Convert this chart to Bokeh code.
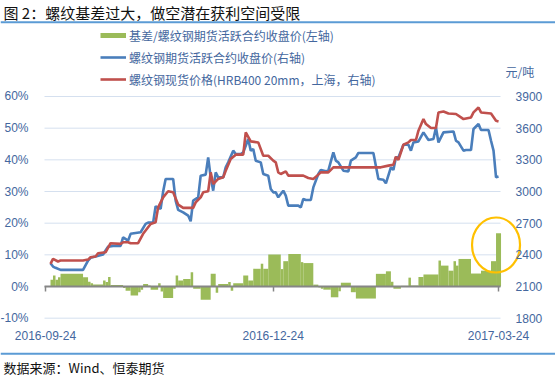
import pandas as pd
from bokeh.plotting import figure
from bokeh.models import (Range1d, LinearAxis, DatetimeAxis, FixedTicker, PrintfTickFormatter,
                          DatetimeTickFormatter, Legend, LegendItem, Label, Span,
                          ColumnDataSource)
from bokeh.embed import file_html
from bokeh.resources import INLINE

# ---------------- texts ----------------
chart_title = "图 2：螺纹基差过大，做空潜在获利空间受限"
source_note = "数据来源：Wind、恒泰期货"
unit_label = "元/吨"
legend_labels = ["基差/螺纹钢期货活跃合约收盘价(左轴)",
                 "螺纹钢期货活跃合约收盘价(右轴)",
                 "螺纹钢现货价格(HRB400 20mm，上海，右轴)"]

# ---------------- axes ----------------
x_tick_dates = ["2016-09-24", "2016-12-24", "2017-03-24"]
pct_ticks = [-10, 0, 10, 20, 30, 40, 50, 60]
price_ticks = [1800, 2100, 2400, 2700, 3000, 3300, 3600, 3900]

# ---------------- data ----------------
futures_dates = ["2016-09-26", "2016-09-27", "2016-09-28", "2016-09-30", "2016-10-09", "2016-10-11",
                 "2016-10-12", "2016-10-14", "2016-10-17", "2016-10-18", "2016-10-19", "2016-10-21",
                 "2016-10-24", "2016-10-25", "2016-10-27", "2016-10-28", "2016-11-01", "2016-11-03",
                 "2016-11-04", "2016-11-06", "2016-11-07", "2016-11-09", "2016-11-10", "2016-11-11",
                 "2016-11-14", "2016-11-15", "2016-11-16", "2016-11-18", "2016-11-20", "2016-11-21",
                 "2016-11-22", "2016-11-24", "2016-11-25", "2016-11-27", "2016-11-28", "2016-11-29",
                 "2016-11-30", "2016-12-01", "2016-12-02", "2016-12-04", "2016-12-05", "2016-12-06",
                 "2016-12-08", "2016-12-09", "2016-12-11", "2016-12-12", "2016-12-14", "2016-12-15",
                 "2016-12-16", "2016-12-17", "2016-12-19", "2016-12-20", "2016-12-22", "2016-12-23",
                 "2016-12-24", "2016-12-25", "2016-12-26", "2016-12-28", "2016-12-29", "2016-12-30",
                 "2017-01-03", "2017-01-04", "2017-01-05", "2017-01-06", "2017-01-08", "2017-01-09",
                 "2017-01-11", "2017-01-12", "2017-01-14", "2017-01-15", "2017-01-17", "2017-01-18",
                 "2017-01-19", "2017-01-21", "2017-01-23", "2017-01-24", "2017-01-26", "2017-01-27",
                 "2017-02-02", "2017-02-04", "2017-02-06", "2017-02-07", "2017-02-09", "2017-02-10",
                 "2017-02-11", "2017-02-12", "2017-02-14", "2017-02-16", "2017-02-17", "2017-02-18",
                 "2017-02-20", "2017-02-22", "2017-02-24", "2017-02-26", "2017-02-27", "2017-02-28",
                 "2017-03-02", "2017-03-06", "2017-03-07", "2017-03-08", "2017-03-10", "2017-03-11",
                 "2017-03-13", "2017-03-14", "2017-03-16", "2017-03-17", "2017-03-20", "2017-03-21",
                 "2017-03-22", "2017-03-23", "2017-03-24"]
futures_price = [2320, 2289, 2277, 2258, 2258, 2346,
                 2372, 2384, 2403, 2441, 2478, 2485,
                 2485, 2566, 2535, 2599, 2614, 2693,
                 2705, 2705, 2860, 2835, 3000, 3119,
                 3119, 2914, 2826, 2803, 2772, 2718,
                 2914, 2945, 3150, 3160, 3323, 3134,
                 3008, 3181, 3134, 3134, 3229, 3276,
                 3387, 3355, 3355, 3370, 3497, 3387,
                 3403, 3292, 3276, 3166, 3150, 3024,
                 2992, 2992, 2945, 3008, 2961, 2866,
                 2866, 2850, 2930, 2920, 2920, 3039,
                 3166, 3204, 3191, 3197, 3370, 3292,
                 3276, 3197, 3191, 3292, 3323, 3365,
                 3365, 3119, 3112, 3077, 3229, 3204,
                 3323, 3323, 3443, 3443, 3387, 3465,
                 3475, 3560, 3488, 3497, 3607, 3465,
                 3560, 3569, 3481, 3465, 3387, 3393,
                 3393, 3592, 3639, 3582, 3582, 3481,
                 3387, 3134, 3141]

spot_dates = ["2016-09-26", "2016-09-27", "2016-09-29", "2016-09-30", "2016-10-09", "2016-10-11",
              "2016-10-12", "2016-10-14", "2016-10-15", "2016-10-18", "2016-10-20", "2016-10-24",
              "2016-10-25", "2016-10-27", "2016-10-28", "2016-10-31", "2016-11-02", "2016-11-05",
              "2016-11-07", "2016-11-08", "2016-11-10", "2016-11-12", "2016-11-14", "2016-11-16",
              "2016-11-18", "2016-11-22", "2016-11-23", "2016-11-25", "2016-11-26", "2016-11-28",
              "2016-11-29", "2016-11-30", "2016-12-02", "2016-12-04", "2016-12-05", "2016-12-07",
              "2016-12-09", "2016-12-12", "2016-12-13", "2016-12-15", "2016-12-18", "2016-12-20",
              "2016-12-22", "2016-12-24", "2016-12-25", "2016-12-26", "2016-12-27", "2016-12-29",
              "2016-12-30", "2017-01-05", "2017-01-07", "2017-01-09", "2017-01-11", "2017-01-12",
              "2017-01-15", "2017-01-17", "2017-02-05", "2017-02-08", "2017-02-10", "2017-02-11",
              "2017-02-12", "2017-02-14", "2017-02-16", "2017-02-17", "2017-02-19", "2017-02-20",
              "2017-02-22", "2017-02-23", "2017-02-25", "2017-02-27", "2017-02-28", "2017-03-02",
              "2017-03-04", "2017-03-07", "2017-03-09", "2017-03-10", "2017-03-13", "2017-03-14",
              "2017-03-16", "2017-03-17", "2017-03-21", "2017-03-23", "2017-03-24"]
spot_price = [2315, 2362, 2337, 2346, 2346, 2355,
              2377, 2384, 2415, 2424, 2510, 2504,
              2519, 2519, 2510, 2510, 2599, 2693,
              2708, 2850, 2945, 3002, 2992, 2876,
              2845, 2845, 2897, 2945, 2992, 3002,
              3181, 3071, 3119, 3134, 3197, 3308,
              3349, 3349, 3560, 3475, 3465, 3339,
              3339, 3292, 3276, 3181, 3166, 3191,
              3150, 3150, 3128, 3119, 3160, 3181,
              3181, 3229, 3229, 3245, 3254, 3330,
              3299, 3443, 3465, 3488, 3488, 3576,
              3686, 3639, 3601, 3601, 3749, 3758,
              3739, 3734, 3702, 3686, 3702, 3749,
              3796, 3749, 3739, 3670, 3664]

basis_start = ["2016-09-26", "2016-09-27", "2016-09-28", "2016-09-29", "2016-09-30", "2016-10-09",
               "2016-10-11", "2016-10-12", "2016-10-13", "2016-10-17", "2016-10-18", "2016-10-19",
               "2016-10-20", "2016-10-25", "2016-10-26", "2016-10-28", "2016-10-31", "2016-11-01",
               "2016-11-02", "2016-11-04", "2016-11-05", "2016-11-08", "2016-11-09", "2016-11-10",
               "2016-11-14", "2016-11-15", "2016-11-16", "2016-11-18", "2016-11-21", "2016-11-22",
               "2016-11-25", "2016-11-29", "2016-12-01", "2016-12-02", "2016-12-06", "2016-12-07",
               "2016-12-08", "2016-12-12", "2016-12-14", "2016-12-16", "2016-12-19", "2016-12-20",
               "2016-12-22", "2016-12-27", "2016-12-28", "2016-12-30", "2017-01-04", "2017-01-05",
               "2017-01-09", "2017-01-11", "2017-01-12", "2017-01-13", "2017-01-16", "2017-01-19",
               "2017-01-20", "2017-01-24", "2017-01-26", "2017-02-03", "2017-02-07", "2017-02-09",
               "2017-02-10", "2017-02-13", "2017-02-16", "2017-02-17", "2017-02-20", "2017-02-22",
               "2017-02-28", "2017-03-01", "2017-03-04", "2017-03-06", "2017-03-07", "2017-03-08",
               "2017-03-13", "2017-03-17", "2017-03-21", "2017-03-23"]
basis_pct = [2.1, 3.5, 2.1, 2.9, 4.0, 2.9,
             1.5, 1.0, 0.6, 1.9, 1.4, 3.0,
             0.5, -0.5, -1.3, -2.8, -1.8, -1.0,
             0.8, 0.3, -1.0, 1.0, -1.6, -3.6,
             -0.7, 3.5, 1.9, 2.4, 4.5, -0.7,
             -4.2, 4.0, -2.0, 0.8, 1.4, -1.3,
             1.0, 3.5, 1.9, 5.6, 7.2, 5.6,
             10.1, 5.5, 8.0, 10.3, 7.7, 7.4,
             0.6, -0.3, -0.7, -1.0, -3.4, -1.5,
             1.2, -1.8, -3.8, 4.0, 4.8, 1.5,
             -0.7, 0.2, 2.8, 0.3, 3.0, 3.8,
             8.2, 6.6, 5.0, 8.0, 6.6, 8.7,
             4.1, 5.0, 8.0, 16.8]
basis_last_end = "2017-03-25"

# ---------------- styles ----------------
GREEN = "#9bbb59"
BLUE = "#4a7ebb"
RED = "#c0504d"
TXT = "#44679e"
GRID = "#d5e0ef"
AXIS = "#868686"
RULE = "#5b9bd5"
CJK = "Noto Sans CJK SC"
LAT = "Liberation Sans"
W, H = 555, 377

# The canvas is one frame; the plotted area spans x_start..plot_end horizontally and
# -10%..60% vertically, with room above/below for title, legend and source note.
canvas_x = (pd.Timestamp("2016-09-06 00:30"), pd.Timestamp("2017-04-15 18:14"))
x_start = pd.Timestamp("2016-09-23 14:24")
plot_end = pd.Timestamp("2017-03-24 19:12")
canvas_pct = (-28.73, 90.31)
price_per_pct = (price_ticks[-1] - price_ticks[0]) / (pct_ticks[-1] - pct_ticks[0])
price_at_zero = price_ticks[0] - price_per_pct * pct_ticks[0]

fut_src = ColumnDataSource(dict(date=pd.to_datetime(futures_dates), price=futures_price))
spot_src = ColumnDataSource(dict(date=pd.to_datetime(spot_dates), price=spot_price))
bar_src = ColumnDataSource(dict(left=pd.to_datetime(basis_start),
                                right=pd.to_datetime(basis_start[1:] + [basis_last_end]),
                                top=basis_pct, bottom=[0] * len(basis_pct)))
grid_src = ColumnDataSource(dict(x0=[x_start] * len(pct_ticks), x1=[plot_end] * len(pct_ticks),
                                 y=pct_ticks))

p = figure(width=W, height=H, title=None, x_axis_type="datetime",
           x_range=Range1d(*canvas_x), y_range=Range1d(*canvas_pct),
           output_backend="svg", toolbar_location=None, min_border=0)
p.extra_y_ranges = {"price": Range1d(price_at_zero + price_per_pct * canvas_pct[0],
                                     price_at_zero + price_per_pct * canvas_pct[1])}
p.outline_line_color = None
p.grid.visible = False

x_ticks_ms = [pd.Timestamp(d).value // 10**6 for d in x_tick_dates]
fmt = "%Y-%m-%d"

# date labels under the -10% line
xa = p.xaxis[0]
xa.fixed_location = pct_ticks[0]
xa.ticker = FixedTicker(ticks=x_ticks_ms)
xa.formatter = DatetimeTickFormatter(milliseconds=fmt, seconds=fmt, minsec=fmt, minutes=fmt,
                                     hourmin=fmt, hours=fmt, days=fmt, months=fmt, years=fmt)
xa.axis_line_color = None
xa.major_tick_line_color = None
xa.minor_tick_line_color = None
xa.major_label_standoff = 7
xa.major_label_text_font = LAT
xa.major_label_text_font_size = "12px"
xa.major_label_text_color = TXT

# left % axis
ya = p.yaxis[0]
ya.fixed_location = x_start.value / 1e6
ya.ticker = FixedTicker(ticks=pct_ticks)
ya.formatter = PrintfTickFormatter(format="%d%%")
ya.axis_line_color = None
ya.major_tick_line_color = None
ya.minor_tick_line_color = None
ya.major_label_standoff = 10
ya.major_label_text_font = LAT
ya.major_label_text_font_size = "12px"
ya.major_label_text_color = TXT

# right price axis
ra = LinearAxis(y_range_name="price", ticker=FixedTicker(ticks=price_ticks),
                fixed_location=plot_end.value / 1e6)
ra.axis_line_color = None
ra.major_tick_line_color = None
ra.minor_tick_line_color = None
ra.major_label_standoff = 9
ra.major_label_text_font = LAT
ra.major_label_text_font_size = "12px"
ra.major_label_text_color = TXT
p.add_layout(ra, "right")

# 0% base line with the date tick marks
zero_axis = DatetimeAxis(fixed_location=0, ticker=FixedTicker(ticks=x_ticks_ms),
                         bounds=(x_start, plot_end))
zero_axis.axis_line_color = AXIS
zero_axis.axis_line_width = 2
zero_axis.major_tick_line_color = AXIS
zero_axis.major_tick_line_width = 1.5
zero_axis.major_tick_in = 0
zero_axis.major_tick_out = 5
zero_axis.minor_tick_line_color = None
zero_axis.major_label_text_color = None
zero_axis.major_label_text_font_size = "0px"
p.add_layout(zero_axis, "below")

# horizontal grid lines, limited to the plotted span
p.segment(x0="x0", x1="x1", y0="y", y1="y", source=grid_src, line_color=GRID, line_width=1,
          level="underlay")

p.quad(left="left", right="right", top="top", bottom="bottom", source=bar_src,
       fill_color=GREEN, line_color=None)
fut_r = p.line("date", "price", source=fut_src, y_range_name="price", line_color=BLUE,
               line_width=2.6)
spot_r = p.line("date", "price", source=spot_src, y_range_name="price", line_color=RED,
                line_width=2.6)
# thin legend key for the basis bars
bar_key = p.line(x=[float("nan")], y=[float("nan")], line_color=GREEN, line_width=5)

# highlight ring around the latest basis bar
p.ellipse(x=[pd.Timestamp(basis_start[-1])], y=[basis_pct[-1] * 0.78], width=48, height=55,
          width_units="screen", height_units="screen",
          fill_color=None, line_color="#ffc000", line_width=2.2)

legend = Legend(items=[LegendItem(label=legend_labels[0], renderers=[bar_key]),
                       LegendItem(label=legend_labels[1], renderers=[fut_r]),
                       LegendItem(label=legend_labels[2], renderers=[spot_r])],
                location=(100, H - 88), orientation="vertical",
                glyph_width=26, glyph_height=18, label_height=18, spacing=4,
                padding=0, margin=0, label_standoff=3,
                border_line_color=None, background_fill_alpha=0,
                label_text_font=CJK, label_text_font_size="12px", label_text_color=TXT)
p.add_layout(legend, "center")

# title, rules, unit and source note (screen units, measured up from the bottom edge)
p.add_layout(Label(x=3, y=H - 1.5, x_units="screen", y_units="screen", text=chart_title,
                   text_font=CJK, text_font_size="15px", text_color="#111111",
                   text_baseline="top", text_align="left"))
p.add_layout(Span(location=H - 21.7, location_units="screen", dimension="width",
                  line_color=RULE, line_width=2))
p.add_layout(Label(x=505, y=H - 71, x_units="screen", y_units="screen", text=unit_label,
                   text_font=CJK, text_font_size="12px", text_color=TXT,
                   text_baseline="middle", text_align="left"))
p.add_layout(Span(location=H - 353.3, location_units="screen", dimension="width",
                  line_color=RULE, line_width=2))
p.add_layout(Label(x=3, y=H - 367, x_units="screen", y_units="screen", text=source_note,
                   text_font=CJK, text_font_size="13px", text_color="#111111",
                   text_baseline="middle", text_align="left"))

open("out.html", "w").write(file_html(p, INLINE))
